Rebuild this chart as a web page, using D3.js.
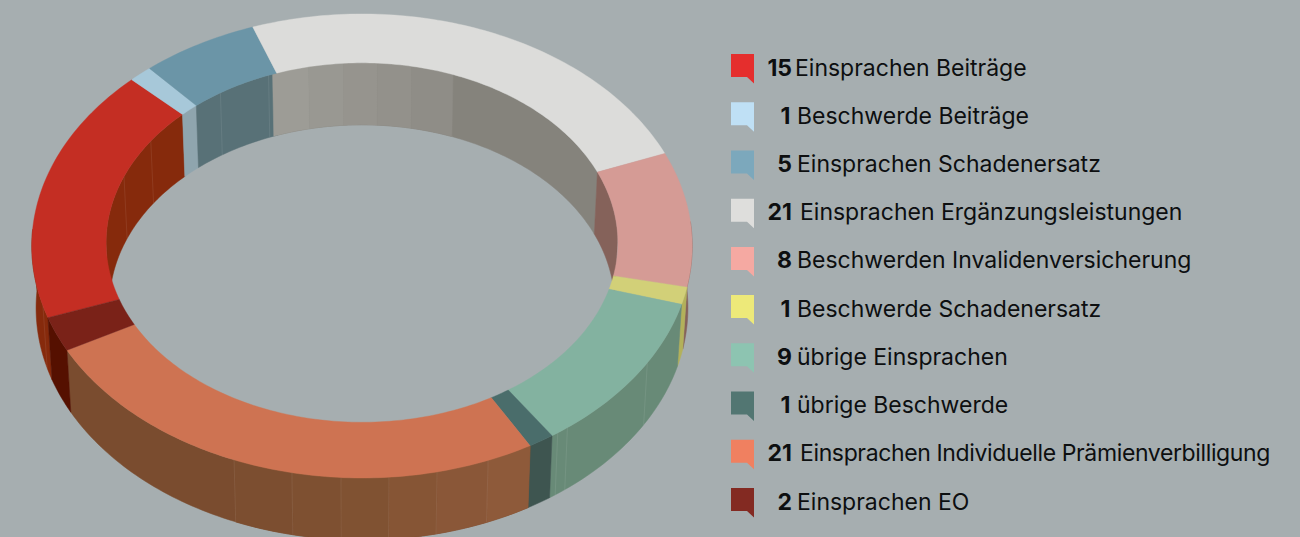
<!DOCTYPE html>
<html><head><meta charset="utf-8">
<script src="https://cdn.jsdelivr.net/npm/d3@7"></script>
<style>html,body{margin:0;padding:0;background:#A6AEB0;overflow:hidden}svg{display:block}</style>
</head><body><svg id="c" width="1300" height="537"></svg>
<script>
const counts=[15,1,5,21,8,1,9,1,21,2];
const labels=["Einsprachen Beiträge","Beschwerde Beiträge","Einsprachen Schadenersatz","Einsprachen Ergänzungsleistungen","Beschwerden Invalidenversicherung","Beschwerde Schadenersatz","übrige Einsprachen","übrige Beschwerde","Einsprachen Individuelle Prämienverbilligung","Einsprachen EO"];
const legendColors=["#E52E2D","#BFE0F5","#7CA8BC","#DEDEDC","#F5A9A2","#EDE979","#8DC4B1","#527672","#F08060","#832A22"];
const topColors=["#C42E23","#A7C8D9","#6B95A7","#DCDCDA","#D59B95","#D2D078","#83B2A0","#4A6D6B","#CE7352","#7A2218"];
const wallColors=["#862A0C","#8FA5AE","#587177","#85837C","#85625A","#B3B15A","#688A77","#3E5550","#7A4C2F","#551000"];
// shaded bands on the white inner wall and the orange outer wall: [from, to, colour]
const innerBands=[[-21,-12.3,"#9D9C96"],[-12.3,-4.2,"#999892"],[-4.2,3.7,"#96948E"],[3.7,11.8,"#93918B"],[11.8,21.8,"#8F8D87"]];
const outerBands=[[151.4,159.1,"#8E5A3A"],[159.1,167.9,"#8A5738"],[167.9,175.9,"#865535"],[175.9,183.8,"#805232"],[183.8,192,"#7E5031"],[192,202.1,"#7C4E30"]];
const seamOuter=[123.75,144,146,159.1,167.9,175.9,183.8,192,202.1,-107];
const seamInner=[-70,-57,-34.5,-22];

const svg=d3.select("#c");
const rad=d3.scaleLinear().domain([0,360]).range([0,2*Math.PI]);
const pie=d3.pie().sort(null).value(d=>d).startAngle(rad(-110)).endAngle(rad(250));
const arcs=pie(counts);
// ground-plane projection with mild perspective and a small angular skew on the right side
const cx=362,cy=237.4,a=330,b=231.7,k=0.037,rIn=0.775,depth=62,shrink=0.987;
function warp(t){
  let deg=t*180/Math.PI; if(deg<-90) deg+=360;
  return t+rad(-2*Math.exp(-Math.pow((deg-100)/60,2)));
}
function proj(r,t0,z){
  const t=warp(t0);
  const X=r*Math.sin(t),Y=-r*Math.cos(t),w=1-k*Y;
  const s=z?shrink:1;
  return [cx+X*a/w*s,cy+Y*b/w+(z?depth:0)];
}
const line=d3.line();
const samples=(t0,t1)=>{const n=Math.max(2,Math.ceil(Math.abs(t1-t0)/rad(1)));return d3.range(n+1).map(i=>t0+(t1-t0)*i/n);};
function wall(r,t0,t1,color){
  const ts=samples(t0,t1);
  const pts=ts.map(t=>proj(r,t,false)).concat(ts.slice().reverse().map(t=>proj(r,t,true)));
  svg.append("path").attr("d",line(pts)+"Z").attr("fill",color).attr("stroke",color).attr("stroke-width",0.5);
}
const inVis=[[rad(-92),rad(92)],[rad(268),rad(452)]];
const outVis=[[rad(88),rad(272)],[rad(-272),rad(-88)]];
function clipDraw(r,d,ranges,color){
  ranges.forEach(([lo,hi])=>{
    const t0=Math.max(d.startAngle,lo),t1=Math.min(d.endAngle,hi);
    if(t1>t0) wall(r,t0,t1,color);
  });
}
function seam(r,s,op){
  const p=proj(r,rad(s),false),q=proj(r,rad(s),true);
  svg.append("line").attr("x1",p[0]).attr("y1",p[1]).attr("x2",q[0]).attr("y2",q[1]).attr("stroke","#fff").attr("stroke-opacity",op).attr("stroke-width",1);
}
arcs.forEach((d,i)=>clipDraw(rIn,d,inVis,wallColors[i]));
innerBands.forEach(([f,t,c])=>wall(rIn,rad(f),rad(t),c));
seamInner.forEach(s=>seam(rIn,s,.08));
arcs.forEach((d,i)=>clipDraw(1,d,outVis,wallColors[i]));
outerBands.forEach(([f,t,c])=>wall(1,rad(f),rad(t),c));
seamOuter.forEach(s=>seam(1,s,.08));
arcs.forEach((d,i)=>{
  const ts=samples(d.startAngle,d.endAngle);
  const pts=ts.map(t=>proj(1,t,false)).concat(ts.slice().reverse().map(t=>proj(rIn,t,false)));
  svg.append("path").attr("d",line(pts)+"Z").attr("fill",topColors[i]).attr("stroke",topColors[i]).attr("stroke-width",0.4);
});
// legend
const ly=d3.scalePoint().domain(d3.range(counts.length)).range([67,501]);
const lg=svg.append("g").attr("font-family","Inter, sans-serif").attr("font-size",23).attr("fill","#0d0f10");
counts.forEach((c,i)=>{
  const y=ly(i);
  lg.append("path").attr("d",`M731 ${y-13}h23v29.5l-7 -6.5h-16z`).attr("fill",legendColors[i]);
  lg.append("text").attr("x",c==1?790.5:792).attr("y",y+8.5).attr("text-anchor","end").attr("font-weight",700).text(c);
  lg.append("text").attr("x",c==21?800:(c==15?795:797)).attr("y",y+8.5)
    .attr("letter-spacing",labels[i].length>40?-0.37:0).text(labels[i]);
});
</script></body></html>
